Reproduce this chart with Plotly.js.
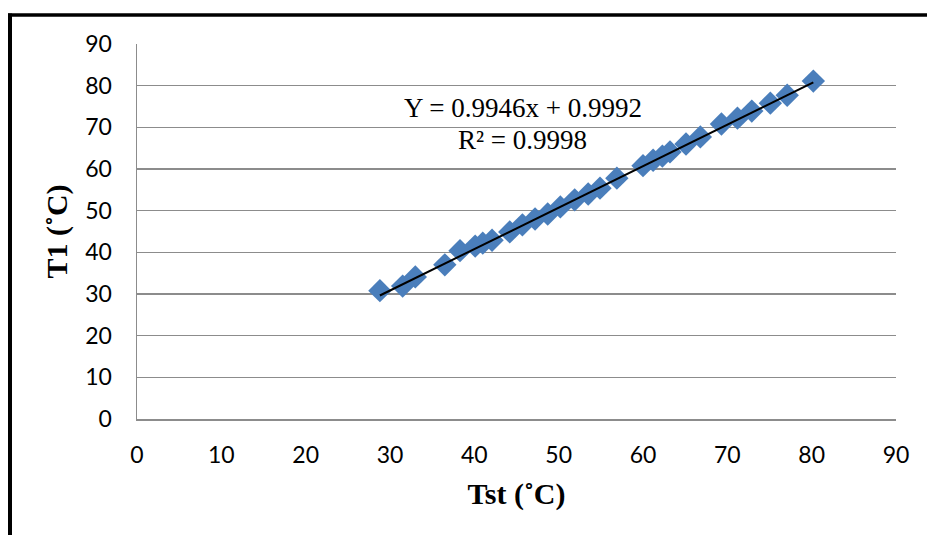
<!DOCTYPE html>
<html>
<head>
<meta charset="utf-8">
<script src="https://cdn.plot.ly/plotly-3.0.1.min.js"></script>
<style>html,body{margin:0;padding:0;background:#fff;}#chart{width:927px;height:535px;}</style>
</head>
<body>
<div id="chart"></div>
<script>
// Reference temperature Tst (°C)
const tst = [28.8, 31.5, 33.0, 36.5, 38.3, 40.1, 41.0, 42.1, 44.2, 45.7, 47.2, 48.7, 50.2, 51.9, 53.5, 54.9, 56.9, 60.0, 61.2, 62.3, 63.2, 65.1, 66.8, 69.3, 71.2, 72.9, 75.1, 77.1, 80.2];
// Sensor temperature T1 (°C)
const t1 = [30.8, 31.9, 34.1, 37.0, 40.4, 41.5, 42.2, 42.9, 44.9, 46.6, 48.0, 49.2, 50.9, 52.6, 54.0, 55.4, 57.8, 60.8, 62.1, 63.1, 64.1, 66.0, 67.7, 70.8, 72.2, 73.9, 75.8, 77.7, 81.1];
const slope = 0.9946;
const intercept = 0.9992;
const eqText = "Y = 0.9946x + 0.9992";
const r2Text = "R² = 0.9998";
const tickVals = [0, 10, 20, 30, 40, 50, 60, 70, 80, 90];

const xMin = Math.min(...tst), xMax = Math.max(...tst);
const trendX = [xMin, xMax];
const trendY = trendX.map(x => slope * x + intercept);

const data = [
  {x: tst, y: t1, type: 'scatter', mode: 'markers',
   marker: {symbol: 'diamond', size: 18, color: '#4A7EBB'}, hoverinfo: 'skip'},
  {x: trendX, y: trendY, type: 'scatter', mode: 'lines',
   line: {color: '#000000', width: 2}, hoverinfo: 'skip'}
];

const W = 759, H = 375, L = 137, T = 44;
const px = v => (v - L) / W;
const py = v => (T + H - v) / H;
const serif = '"Liberation Serif", "Times New Roman", serif';

const layout = {
  width: 927, height: 535,
  margin: {l: 137, r: 31, t: 44, b: 116},
  paper_bgcolor: '#ffffff', plot_bgcolor: '#ffffff',
  showlegend: false,
  font: {family: 'Lato, "Open Sans", sans-serif', size: 23, color: '#000'},
  xaxis: {
    range: [0, 90], tickvals: tickVals, ticktext: tickVals.map(String),
    showgrid: false, zeroline: false, showline: true, linecolor: '#8C8C8C', linewidth: 1.5,
    ticks: '', ticklabelstandoff: 15, tickfont: {size: 23},
    title: {text: 'Tst (˚C)', font: {family: serif, size: 30, color: '#000', weight: 'bold'}, standoff: 16}
  },
  yaxis: {
    range: [0, 90], tickvals: tickVals, ticktext: tickVals.map(String),
    showgrid: true, gridcolor: '#8C8C8C', gridwidth: 1.5, zeroline: false,
    showline: true, linecolor: '#8C8C8C', linewidth: 1.5,
    ticks: '', ticklabelstandoff: 19, tickfont: {size: 23},
    title: {text: 'T1 (˚C)', font: {family: serif, size: 30, color: '#000', weight: 'bold'}, standoff: 8}
  },
  annotations: [
    {xref: 'paper', yref: 'paper', x: px(523), y: py(108), xanchor: 'center', yanchor: 'middle',
     text: eqText, showarrow: false, font: {family: serif, size: 27, color: '#000'}},
    {xref: 'paper', yref: 'paper', x: px(522), y: py(140), xanchor: 'center', yanchor: 'middle',
     text: r2Text, showarrow: false, font: {family: serif, size: 27, color: '#000'}}
  ],
  shapes: [
    {type: 'line', xref: 'paper', yref: 'paper', x0: px(8), x1: px(930), y0: py(15), y1: py(15), line: {color: '#000', width: 3.5}},
    {type: 'line', xref: 'paper', yref: 'paper', x0: px(10), x1: px(10), y0: py(13.5), y1: py(540), line: {color: '#000', width: 4}}
  ]
};

Plotly.newPlot('chart', data, layout, {displayModeBar: false, staticPlot: true});
</script>
</body>
</html>
